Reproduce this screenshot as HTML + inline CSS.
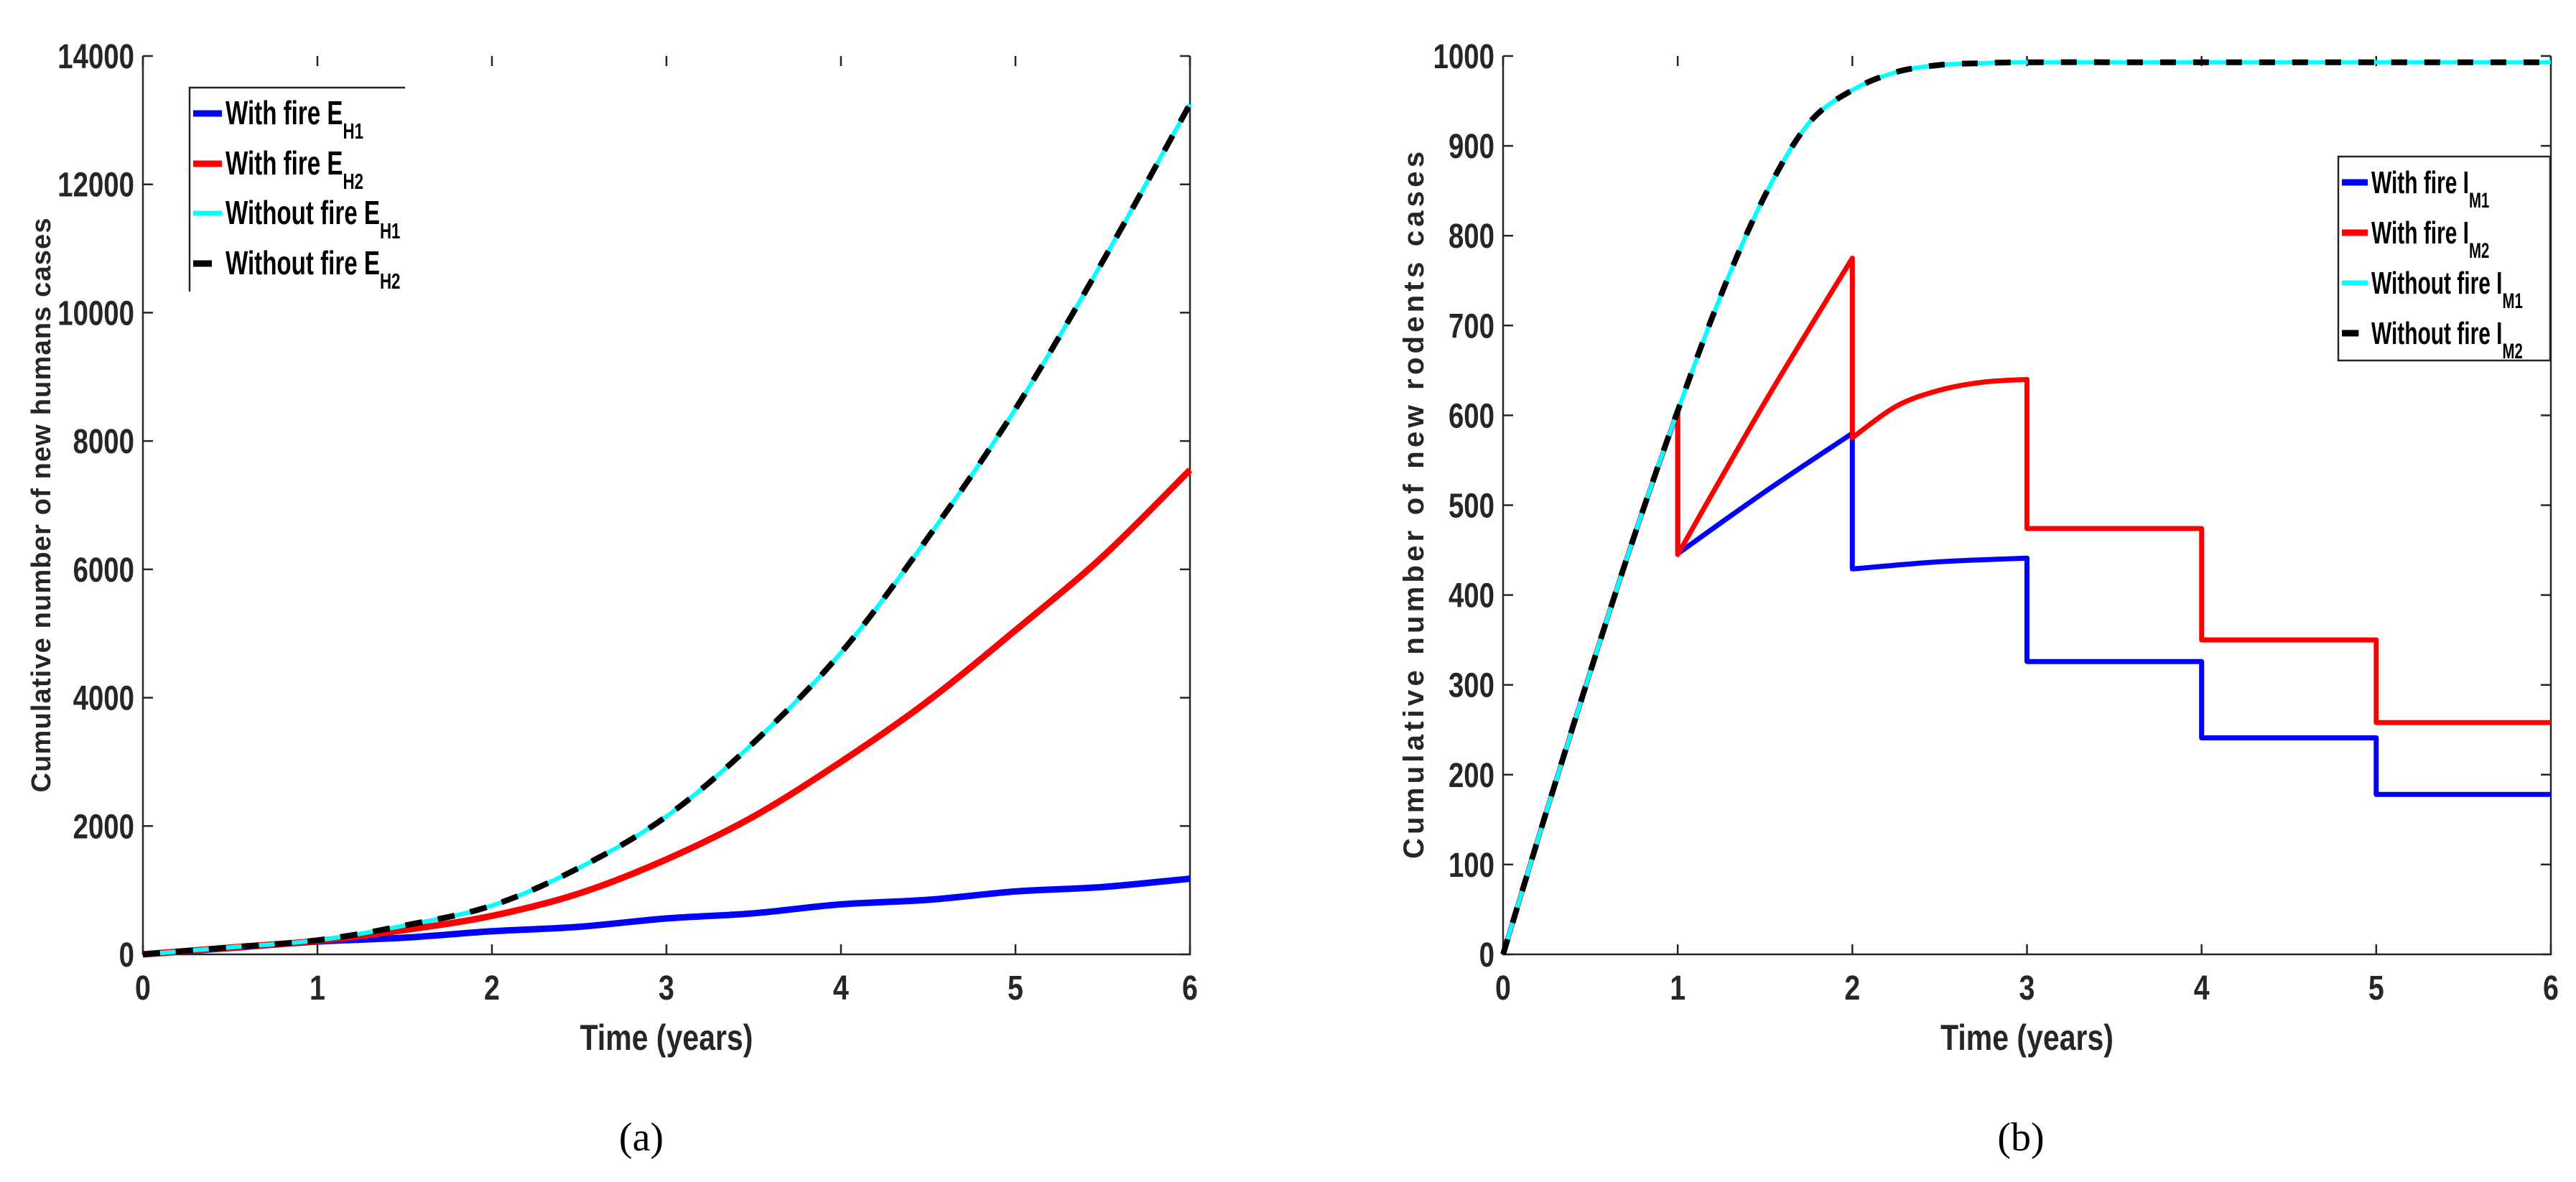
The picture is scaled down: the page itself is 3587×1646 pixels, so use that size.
<!DOCTYPE html>
<html><head><meta charset="utf-8"><style>
html,body{margin:0;padding:0;background:#fff;}
svg{display:block;font-family:"Liberation Sans",Arial,sans-serif;}
</style></head><body>
<svg id="chart" width="3587" height="1646" viewBox="0 0 3587 1646" xmlns="http://www.w3.org/2000/svg">
<rect width="3587" height="1646" fill="#fff"/>
<g id="pa"></g>
<g id="pb"></g>
</svg>
<script>
// ---- Panel (a) data ----
const timeA = [0,0.5,1,1.5,2,2.5,3,3.5,4,4.5,5,5.5,6];
const withFireEH1 = [0,100,200,260,360,430,560,640,780,850,980,1050,1180];
const withFireEH2 = [0,105,210,380,600,950,1480,2150,3000,3950,5050,6200,7550];
const withoutFireEH = [0,110,220,450,760,1350,2150,3300,4700,6500,8500,10800,13250];
const yTicksA = [0,2000,4000,6000,8000,10000,12000,14000];
const xTicks = [0,1,2,3,4,5,6];
// ---- Panel (b) data ----
const timeNoFire = [0,0.25,0.5,0.75,1,1.25,1.5,1.75,2,2.25,2.5,2.75,3,4,5,6];
const withoutFireIM = [0,160,315,465,605,735,845,925,962,982,990,992,993,993,993,993];
const timeIM2 = [0,0.25,0.5,0.75,1,1,1.5,2,2,2.25,2.5,2.75,3,3,4,4,5,5,6];
const withFireIM2 = [0,160,315,465,605,445,615,775,575,610,628,637,640,474,474,350,350,258,258];
const timeIM1 = [0,0.25,0.5,0.75,1,1,1.5,2,2,2.5,3,3,4,4,5,5,6];
const withFireIM1 = [0,160,315,465,605,446,515,580,429,437,441,326,326,241,241,178,178];
const yTicksB = [0,100,200,300,400,500,600,700,800,900,1000];

const NS="http://www.w3.org/2000/svg";
function mk(parent,tag,attrs){const e=document.createElementNS(NS,tag);for(const k in attrs)e.setAttribute(k,attrs[k]);parent.appendChild(e);return e;}

function pathFrom(ts,vs,xf,yf){
  let runs=[],cur=[];
  for(let i=0;i<ts.length;i++){
    if(i>0 && ts[i]===ts[i-1]){runs.push(cur);cur=[];}
    cur.push([xf(ts[i]),yf(vs[i])]);
  }
  runs.push(cur);
  let d="";
  runs.forEach((p,ri)=>{
    d+=(ri===0?"M":"L")+p[0][0].toFixed(1)+","+p[0][1].toFixed(1);
    for(let i=0;i<p.length-1;i++){
      const p0=p[Math.max(0,i-1)],p1=p[i],p2=p[i+1],p3=p[Math.min(p.length-1,i+2)];
      const c1=[p1[0]+(p2[0]-p0[0])/6,p1[1]+(p2[1]-p0[1])/6];
      const c2=[p2[0]-(p3[0]-p1[0])/6,p2[1]-(p3[1]-p1[1])/6];
      d+="C"+c1[0].toFixed(1)+","+c1[1].toFixed(1)+" "+c2[0].toFixed(1)+","+c2[1].toFixed(1)+" "+p2[0].toFixed(1)+","+p2[1].toFixed(1);
    }
  });
  return d;
}
function ctext(parent,x,y,str,size,anchor,sx){
  const g=mk(parent,"g",{transform:`translate(${x},${y}) scale(${sx},1)`});
  const t=mk(g,"text",{x:0,y:0,"font-size":size,"font-weight":"bold","text-anchor":anchor,fill:"#262626"});
  t.textContent=str;return t;
}

function panel(root,L,R,T,B,ymax,yTicks,opts){
  const xf=t=>L+t*(R-L)/6, yf=v=>B-v*(B-T)/ymax;
  const ax=mk(root,"path",{d:`M${L},${T}V${B}H${R}V${T}`,fill:"none",stroke:"#262626","stroke-width":2.5});
  
  
  xTicks.forEach(t=>{
    const x=xf(t);
    mk(root,"path",{d:`M${x},${B}v-14M${x},${T}v14`,stroke:"#262626","stroke-width":2.5});
    const tl=ctext(root,x,1392,String(t),48,"middle",0.82);
    
    
  });
  yTicks.forEach(v=>{
    const y=yf(v);
    mk(root,"path",{d:`M${L},${y}h14M${R},${y}h-14`,stroke:"#262626","stroke-width":2.5});
    const tl=ctext(root,L-12,y+17,String(v),48,"end",0.8);
    
    
  });
  const xt=ctext(root,(L+R)/2,1462,"Time (years)",50,"middle",0.82);
  
  
  const yg=mk(root,"text",{transform:`translate(${opts.ylx},${(T+B)/2}) rotate(-90)`,"font-size":opts.yfs,"font-weight":"bold","text-anchor":"middle",fill:"#262626",textLength:opts.ylen,lengthAdjust:"spacing"});
  yg.textContent=opts.ylabel;
  
  
  const cap=mk(root,"text",{x:opts.capx,y:1602,"font-size":56,"font-family":"Liberation Serif, serif","text-anchor":"middle",fill:"#000"});
  cap.textContent=opts.cap;
  
  
  return {xf,yf};
}
function series(root,d,color,w,dash,name){
  const a={d:d,fill:"none",stroke:color,"stroke-width":w,"stroke-linejoin":"round"};
  if(dash)a["stroke-dasharray"]=dash;
  const p=mk(root,"path",a);
  
  
}
function legend(root,x0,y0,w,h,rows,entries,full,tsize,subsize,sx){
  const b=mk(root,"path",{d:full?`M${x0},${y0}h${w}v${h}h${-w}z`:`M${x0+w},${y0}H${x0}V${y0+h}`,fill:full?"#fff":"none",stroke:"#262626","stroke-width":2.5});
  
  
  entries.forEach((e,i)=>{
    const y=rows[i];
    const g=mk(root,"g",{});
    
    
    mk(g,"line",{x1:x0+5,x2:e.dash?x0+5+(e.len*0.65):x0+5+e.len,y1:y,y2:y,stroke:e.c,"stroke-width":e.w});
    const tg=mk(g,"g",{transform:`translate(${x0+e.len+10},${y+15}) scale(${sx},1)`});
    const t=mk(tg,"text",{x:0,y:0,"font-size":tsize,"font-weight":"bold",fill:"#000"});
    t.appendChild(document.createTextNode(e.main));
    const s=mk(t,"tspan",{dy:20,"font-size":subsize});s.textContent=e.sub;
  });
}

// Panel a
const pa=document.getElementById("pa");
const A=panel(pa,199,1657,78,1329,14000,yTicksA,{ylx:70,ylen:800,yfs:38,ylabel:"Cumulative number of new humans cases",cap:"(a)",capx:893});
series(pa,pathFrom(timeA,withFireEH1,A.xf,A.yf),"#0000ff",9,null,"series-with-fire-eh1");
series(pa,pathFrom(timeA,withFireEH2,A.xf,A.yf),"#ff0000",9,null,"series-with-fire-eh2");
series(pa,pathFrom(timeA,withoutFireEH,A.xf,A.yf),"#00ffff",6,null,"series-without-fire-eh1");
series(pa,pathFrom(timeA,withoutFireEH,A.xf,A.yf),"#000000",8,"24 22","series-without-fire-eh2");
legend(pa,264,122,300,284,[158,228,297,367],[
 {c:"#0000ff",w:9,len:40,main:"With fire E",sub:"H1"},
 {c:"#ff0000",w:9,len:40,main:"With fire E",sub:"H2"},
 {c:"#00ffff",w:7,len:40,main:"Without fire E",sub:"H1"},
 {c:"#000000",w:9,len:40,dash:true,main:"Without fire E",sub:"H2"}],false,46,31,0.72);

// Panel b
const pb=document.getElementById("pb");
const Bp=panel(pb,2093,3552,78,1329,1000,yTicksB,{ylx:1982,ylen:985,yfs:40,ylabel:"Cumulative number of new rodents cases",cap:"(b)",capx:2814});
series(pb,pathFrom(timeIM1,withFireIM1,Bp.xf,Bp.yf),"#0000ff",7,null,"series-with-fire-im1");
series(pb,pathFrom(timeIM2,withFireIM2,Bp.xf,Bp.yf),"#ff0000",7,null,"series-with-fire-im2");
series(pb,pathFrom(timeNoFire,withoutFireIM,Bp.xf,Bp.yf),"#00ffff",6,null,"series-without-fire-im1");
series(pb,pathFrom(timeNoFire,withoutFireIM,Bp.xf,Bp.yf),"#000000",8,"22 24","series-without-fire-im2");
legend(pb,3256,218,295,284,[254,324,394,464],[
 {c:"#0000ff",w:9,len:36,main:"With fire I",sub:"M1"},
 {c:"#ff0000",w:9,len:36,main:"With fire I",sub:"M2"},
 {c:"#00ffff",w:7,len:36,main:"Without fire I",sub:"M1"},
 {c:"#000000",w:9,len:36,dash:true,main:"Without fire I",sub:"M2"}],true,44,30,0.68);
</script>
</body></html>
